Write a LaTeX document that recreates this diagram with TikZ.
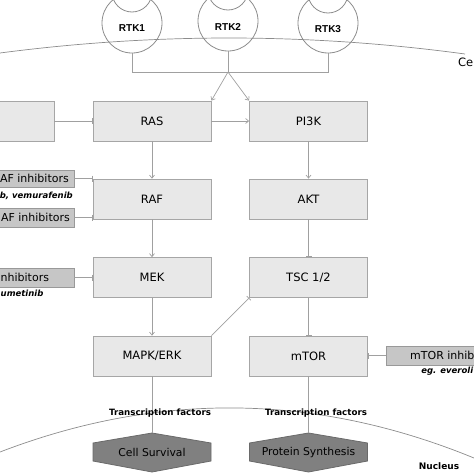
\documentclass[tikz,border=0pt]{standalone}
\usepackage{fontspec}
\setmainfont{DejaVu Sans}
\newfontfamily\rtkfont{Liberation Sans}
\usetikzlibrary{arrows.meta}
\definecolor{boxfill}{HTML}{E8E8E8}
\definecolor{boxline}{HTML}{A6A6A6}
\definecolor{inhfill}{HTML}{C6C6C6}
\definecolor{inhline}{HTML}{999999}
\definecolor{hexfill}{HTML}{808080}
\definecolor{hexline}{HTML}{6A6A6A}
\definecolor{linegray}{HTML}{A0A0A0}
\definecolor{circline}{HTML}{8C8C8C}
\begin{document}
\begin{tikzpicture}[x=1pt,y=-1pt,
  conn/.style={draw=linegray, line width=0.7pt},
  act/.style={conn, -{Straight Barb[length=3pt,width=5pt]}},
  inh/.style={conn, -{Bar[width=6pt]}},
  curve/.style={draw=circline, line width=0.7pt},
  stepbox/.style={draw=boxline, fill=boxfill, line width=0.8pt, minimum width=118pt, minimum height=40pt, inner sep=0pt, font=\fontsize{11.5}{13}\selectfont},
  inhbox/.style={draw=inhline, fill=inhfill, line width=0.8pt, inner sep=0pt},
  inhtext/.style={inner sep=0pt, font=\fontsize{11}{13}\selectfont},
  drugtext/.style={inner sep=0pt, font=\fontsize{8.5}{10}\selectfont\bfseries\itshape},
  rtk/.style={draw=circline, line width=0.8pt, circle, minimum size=60pt, inner sep=0pt},
  rtklabel/.style={inner sep=0pt, font=\fontsize{10}{12}\selectfont\rtkfont\bfseries},
  smalllabel/.style={inner sep=0pt, font=\fontsize{8.7}{10}\selectfont\bfseries},
  hexshape/.style={draw=hexline, fill=hexfill, line width=0.8pt},
  hextext/.style={inner sep=0pt, font=\fontsize{10.8}{13}\selectfont}
]
\useasboundingbox (0,0) rectangle (474,474);
\clip (0,0) rectangle (474,474);

% membranes
\draw[curve] (0,53) .. controls (155,32.7) and (310,33) .. (465,54);
\node[inner sep=0pt, anchor=west, font=\fontsize{11.5}{13}\selectfont] (cellmem) at (458,62) {Ce};
\draw[curve] (0,452) .. controls (158,391.3) and (316,393.3) .. (474,458);
\node[smalllabel, font=\fontsize{9}{11}\selectfont\bfseries] (nucleus) at (439,466) {Nucleus};

% receptors
\node[rtk] (rtk1) at (132,23) {};
\node[rtk] (rtk2) at (228,21) {};
\node[rtk] (rtk3) at (328,23) {};
\draw[draw=circline, line width=0.8pt] (132,-8) circle[radius=20pt];
\draw[draw=circline, line width=0.8pt] (228,-10) circle[radius=20pt];
\draw[draw=circline, line width=0.8pt] (328,-7) circle[radius=20pt];
\node[rtklabel] (rtk1t) at (132,28) {RTK1};
\node[rtklabel] (rtk2t) at (228,27) {RTK2};
\node[rtklabel] (rtk3t) at (328,29) {RTK3};

\coordinate (jl) at (132,72);
\coordinate (j) at (228,72);
\coordinate (jr) at (328,72);

% boxes
\node[stepbox] (lbox) at (-5,121) {};
\node[stepbox] (ras) at (152,121) {RAS};
\node[stepbox] (pi3k) at (308.5,121) {PI3K};
\node[stepbox] (raf) at (152,199) {RAF};
\node[stepbox] (akt) at (308.5,199) {AKT};
\node[stepbox] (mek) at (152,277.5) {MEK};
\node[stepbox] (tsc) at (308.5,277.5) {TSC 1/2};
\node[stepbox] (mapk) at (152,356) {MAPK/ERK};
\node[stepbox] (mtor) at (308.5,356) {mTOR};

% inhibitor boxes
\node[inhbox, minimum width=134pt, minimum height=17pt] (braf) at (7,178.5) {};
\node[inhtext, anchor=east] (braft) at (69,178.5) {AF inhibitors};
\node[drugtext, anchor=east] (brafd) at (73,196) {b, vemurafenib};
\node[inhbox, minimum width=134pt, minimum height=19pt] (praf) at (7,217.5) {};
\node[inhtext, anchor=east] (praft) at (70,217.5) {AF inhibitors};
\node[inhbox, minimum width=134pt, minimum height=19pt] (meki) at (7,277.5) {};
\node[inhtext, anchor=west] (mekit) at (0.5,277.5) {nhibitors};
\node[drugtext, anchor=west] (mekid) at (0.5,293) {umetinib};
\node[inhbox, minimum width=134pt, minimum height=19pt] (mtori) at (453,355.5) {};
\node[inhtext, anchor=west] (mtorit) at (410,355.5) {mTOR inhib};
\node[drugtext, anchor=east] (mtorid) at (473.5,371) {eg. everoli};

% hexagons
\coordinate (cstop) at (152,433);
\coordinate (pstop) at (308.5,433);
\path[hexshape] (cstop) -- (211,443) -- (211,461) -- (152,472) -- (93,461) -- (93,443) -- cycle;
\path[hexshape] (pstop) -- (367.5,443) -- (367.5,461) -- (308.5,472) -- (249.5,461) -- (249.5,443) -- cycle;
\node[hextext] (cs) at (152,452.5) {Cell Survival};
\node[hextext] (ps) at (308.5,452.5) {Protein Synthesis};

% connectors
\draw[conn] (rtk1.south) -- (jl) -- (jr) -- (rtk3.south);
\draw[conn] (rtk2.south) -- (j);
\draw[act] (j) -- (ras.north east);
\draw[act] (j) -- (pi3k.north west);
\draw[inh] (lbox.east) -- (ras.west);
\draw[act] (ras.east) -- (pi3k.west);
\draw[act] (ras.south) -- (raf.north);
\draw[act] (raf.south) -- (mek.north);
\draw[act] (mek.south) -- (mapk.north);
\draw[act] (pi3k.south) -- (akt.north);
\draw[inh] (akt.south) -- (tsc.north);
\draw[inh] (tsc.south) -- (mtor.north);
\draw[inh] (mapk.north east) -- (tsc.south west);
\draw[inh] (braf.east) -- (braf.east -| raf.west);
\draw[inh] (praf.east) -- (praf.east -| raf.west);
\draw[inh] (meki.east) -- (meki.east -| mek.west);
\draw[inh] (mtori.west) -- (mtori.west -| mtor.east);
\draw[conn] (mapk.south) -- (cstop);
\draw[conn] (mtor.south) -- (pstop);

\node[smalllabel] (tf1) at (160,413) {Transcription factors};
\node[smalllabel] (tf2) at (316,413) {Transcription factors};
\end{tikzpicture}
\end{document}
